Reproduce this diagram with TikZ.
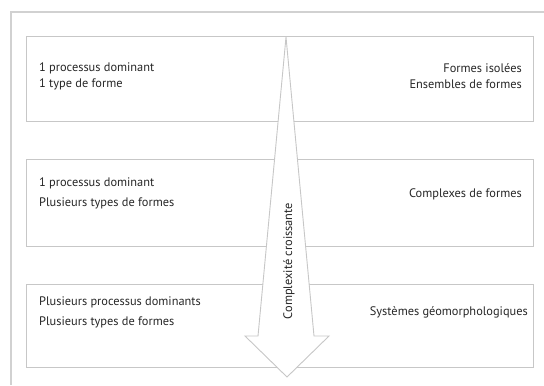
\documentclass[tikz,border=0pt]{standalone}
\usepackage{fontspec}
\setmainfont{PT Sans}
\usepackage{tikz}

\begin{document}
\begin{tikzpicture}[x=1bp,y=-1bp,
  cadre/.style={draw=black!22,line width=0.9bp},
  txt/.style={font=\fontsize{12.4}{16}\selectfont,text=black!85,inner sep=0pt},
  txtb/.style={txt,font=\fontsize{12.4}{20}\selectfont}]
\useasboundingbox (0,0) rectangle (544,385);
\draw[black!18,line width=1.2bp] (544,12) -- (11,12) -- (11,385);
\draw[cadre] (26,36) rectangle (533,121);
\draw[cadre] (26,159) rectangle (533,246);
\draw[cadre] (26,284) rectangle (533,367);
\draw[cadre,fill=white] (286,37) -- (314,336) -- (329,336) -- (287,377)
  -- (245,336) -- (258,336) -- cycle;
\node[txt,rotate=90] (fleche) at (289,261) {Complexité croissante};
\node[txt,anchor=west,align=left] (g1) at (39,76) {1 processus dominant\\1 type de forme};
\node[txt,anchor=east,align=right] (d1) at (522,76) {Formes isolées\\Ensembles de formes};
\node[txtb,anchor=west,align=left] (g2) at (39,193) {1 processus dominant\\Plusieurs types de formes};
\node[txt,anchor=east] (d2) at (522,194) {Complexes de formes};
\node[txtb,anchor=west,align=left] (g3) at (39,312) {Plusieurs processus dominants\\Plusieurs types de formes};
\node[txt,anchor=east] (d3) at (528,312) {Systèmes géomorphologiques};
\end{tikzpicture}
\end{document}
